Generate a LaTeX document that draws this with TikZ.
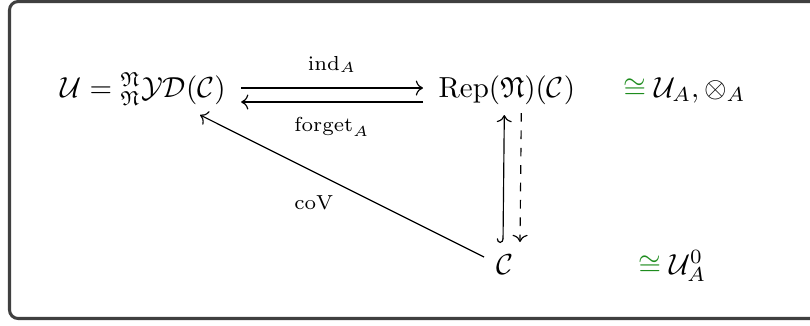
\documentclass[tikz,border=0pt]{standalone}
\usepackage{amsmath,amssymb}
\usepackage{tikz-cd}
\usetikzlibrary{arrows,calc}
\definecolor{framegray}{RGB}{64,64,64}
\definecolor{isogreen}{RGB}{30,140,30}
\newcommand{\isogr}{\mathrel{\textcolor{isogreen}{\cong}}}
\begin{document}
\begin{tikzpicture}[x=0.345pt,y=-0.345pt,
  txt/.style={inner sep=0pt},
  lbl/.style={inner sep=0pt,font=\scriptsize},
  cdarrow/.style={-cm to,line width=0.4pt},
  frame/.style={draw=framegray,line width=1.05pt,rounded corners=3pt}]
\useasboundingbox (0,0) rectangle (810,325);
\begin{scope}
\clip (0,0) rectangle (810,325);
\draw[frame] (9.5,1.5) rectangle (830,318.5);
\end{scope}
\node[txt,anchor=base west] (U) at (60,97.5) {$\mathcal{U} = {}^{\mathfrak{N}}_{\mathfrak{N}}\mathcal{YD}(\mathcal{C})$};
\node[txt,anchor=base west] (Rep) at (438,97.5) {$\mathrm{Rep}(\mathfrak{N})(\mathcal{C})$};
\node[txt,anchor=base west] (iso1) at (623,97.5) {$\isogr\mathcal{U}_A, \otimes_A$};
\node[txt,anchor=base] (C) at (505,274) {$\mathcal{C}$};
\node[txt,anchor=base west] (iso2) at (638,274) {$\isogr\mathcal{U}_A^0$};
\draw[cdarrow] ([shift={(15,-9.5)}]U.base east) -- node[lbl,midway,above=5pt] (ind) {$\mathrm{ind}_A$} ([shift={(-15,-9.5)}]Rep.base west);
\draw[cdarrow] ([shift={(-15,4.5)}]Rep.base west) -- node[lbl,midway,below=5pt] (fgt) {$\mathrm{forget}_A$} ([shift={(15,4.5)}]U.base east);
\draw[cdarrow] ([shift={(-21,-17)}]C.base) -- node[lbl,midway,shift={(-28,17)}] (cov) {$\mathrm{coV}$} ([shift={(57,17.5)}]U.base);
\draw[cm right hook-cm to,line width=0.4pt] ([shift={(-2,-31)}]C.base) -- ([shift={(-2.5,17.5)}]Rep.base);
\draw[cdarrow,dashed] ([shift={(14.5,15.5)}]Rep.base) -- ([shift={(15,-32)}]C.base);
\end{tikzpicture}
\end{document}
